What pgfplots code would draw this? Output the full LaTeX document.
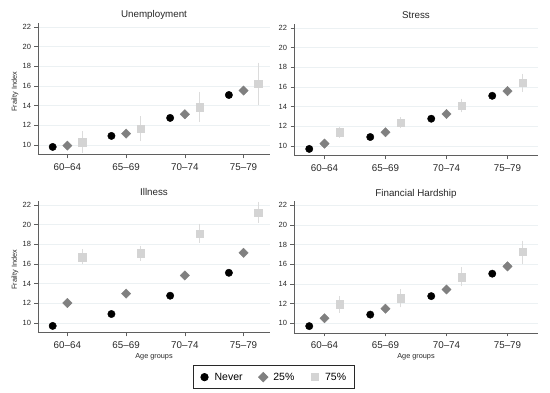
\documentclass[border=0pt]{standalone}
\usepackage{fontspec}
\setmainfont{Liberation Sans}
\usepackage{pgfplots}
\pgfplotsset{compat=1.18}

\definecolor{dg}{RGB}{128,128,128}
\definecolor{lg}{RGB}{212,212,212}
\definecolor{eb}{RGB}{220,220,220}
\definecolor{gridc}{RGB}{236,241,243}
\definecolor{axc}{RGB}{95,95,95}
\definecolor{txt}{RGB}{40,40,40}

\pgfplotsset{
 panel/.style={
  scale only axis, width=232pt, height=131.8pt,
  xmin=0.5, xmax=4.45, ymin=9, ymax=22.4,
  axis x line*=bottom, axis y line*=left,
  axis line style={axc, line width=0.6pt, -},
  xtick={1,2,3,4}, xticklabels={60--64,65--69,70--74,75--79},
  ytick={10,12,...,22},
  tick align=outside, major tick length=3.5pt,
  tick style={axc, line width=0.5pt},
  ymajorgrids, major grid style={gridc, line width=0.6pt},
  xticklabel style={font=\fontsize{9.8}{10}\selectfont, text=txt, yshift=-2pt},
  yticklabel style={font=\fontsize{7.5}{8}\selectfont, text=txt},
  /pgf/number format/assume math mode=true,
  every axis title/.style={font=\fontsize{9.8}{10}\selectfont, text=txt, at={(0.5,1)}, anchor=base, yshift=5pt},
  every axis y label/.style={font=\fontsize{7.3}{8}\selectfont, text=txt, at={(axis description cs:-0.099,0.477)}, rotate=90, anchor=center},
  every axis x label/.style={font=\fontsize{7.3}{8}\selectfont, text=txt, at={(axis description cs:0.5,0)}, anchor=center, yshift=-23.5pt},
  clip=false,
 },
 nev/.style={only marks, mark=*, mark size=3.7pt, mark options={fill=black, draw=black}},
 q25/.style={only marks, mark=square*, mark size=3.3pt, mark options={rotate=45, fill=dg, draw=dg}},
 q75/.style={only marks, mark=square*, mark size=3.7pt, mark options={fill=lg, draw=lg},
   error bars/y dir=both, error bars/y explicit, error bars/error bar style={eb, line width=0.8pt},
   error bars/error mark options={mark size=2pt, eb, line width=0.8pt}},
}

\begin{document}
\begin{tikzpicture}
\fill[white] (0,0) rectangle (550pt,393pt);
\useasboundingbox (0,0) rectangle (550pt,393pt);

% Unemployment
\begin{axis}[panel, at={(38pt,238.2pt)}, anchor=south west, title={Unemployment}, ylabel={Frailty Index}]
\addplot[nev] coordinates {(0.75,9.8) (1.75,10.92) (2.75,12.75) (3.75,15.08)};
\addplot[q25] coordinates {(1,9.93) (2,11.15) (3,13.12) (4,15.53)};
\addplot[q75] table[x=x, y=y, y error plus=ep, y error minus=em] {
x y ep em
1.25 10.27 0.92 0.85
2.25 11.66 1.05 1.06
3.25 13.83 1.36 1.29
4.25 16.20 1.97 1.96
};
\end{axis}

% Stress
\begin{axis}[panel, width=244pt, xmax=4.5, at={(294pt,237.2pt)}, anchor=south west, title={Stress}]
\addplot[nev] coordinates {(0.75,9.7) (1.75,10.91) (2.75,12.77) (3.75,15.1)};
\addplot[q25] coordinates {(1,10.24) (2,11.39) (3,13.25) (4,15.58)};
\addplot[q75] table[x=x, y=y, y error plus=ep, y error minus=em] {
x y ep em
1.25 11.39 0.35 0.35
2.25 12.37 0.35 0.35
3.25 14.12 0.50 0.50
4.25 16.42 0.70 0.72
};
\end{axis}

% Illness
\begin{axis}[panel, at={(38pt,60.2pt)}, anchor=south west, title={Illness}, ylabel={Frailty Index}, xlabel={Age groups}]
\addplot[nev] coordinates {(0.75,9.7) (1.75,10.91) (2.75,12.77) (3.75,15.1)};
\addplot[q25] coordinates {(1,12.03) (2,12.98) (3,14.83) (4,17.13)};
\addplot[q75] table[x=x, y=y, y error plus=ep, y error minus=em] {
x y ep em
1.25 16.69 0.58 0.54
2.25 17.10 0.57 0.58
3.25 19.06 0.84 0.71
4.25 21.22 0.88 0.82
};
\end{axis}

% Financial Hardship
\begin{axis}[panel, width=244pt, xmax=4.5, at={(294pt,60pt)}, anchor=south west, title={Financial Hardship}, xlabel={Age groups},
  legend style={at={(axis description cs:-0.082,-0.335)}, anchor=center, draw={rgb,255:red,40;green,40;blue,40}, line width=0.8pt,
    font=\fontsize{10.5}{12}\selectfont, legend columns=3,
    /tikz/every even column/.append style={column sep=14pt}, inner xsep=6pt, inner ysep=5pt},
  legend image code/.code={\path (0cm,0cm) (0.42cm,0cm); \draw[#1] plot coordinates {(0.15cm,0cm)};}]
\addlegendimage{nev}
\addlegendentry{Never}
\addlegendimage{only marks, mark=square*, mark size=3.3pt, mark options={rotate=45, fill=dg, draw=dg}}
\addlegendentry{25\%}
\addlegendimage{only marks, mark=square*, mark size=3.7pt, mark options={fill=lg, draw=lg}}
\addlegendentry{75\%}
\addplot[nev, forget plot] coordinates {(0.75,9.7) (1.75,10.87) (2.75,12.75) (3.75,15.03)};
\addplot[q25, forget plot] coordinates {(1,10.5) (2,11.47) (3,13.42) (4,15.77)};
\addplot[q75, forget plot] table[x=x, y=y, y error plus=ep, y error minus=em] {
x y ep em
1.25 11.91 0.60 0.64
2.25 12.55 0.70 0.75
3.25 14.69 0.77 0.74
4.25 17.24 0.96 1.04
};
\end{axis}
\end{tikzpicture}
\end{document}
